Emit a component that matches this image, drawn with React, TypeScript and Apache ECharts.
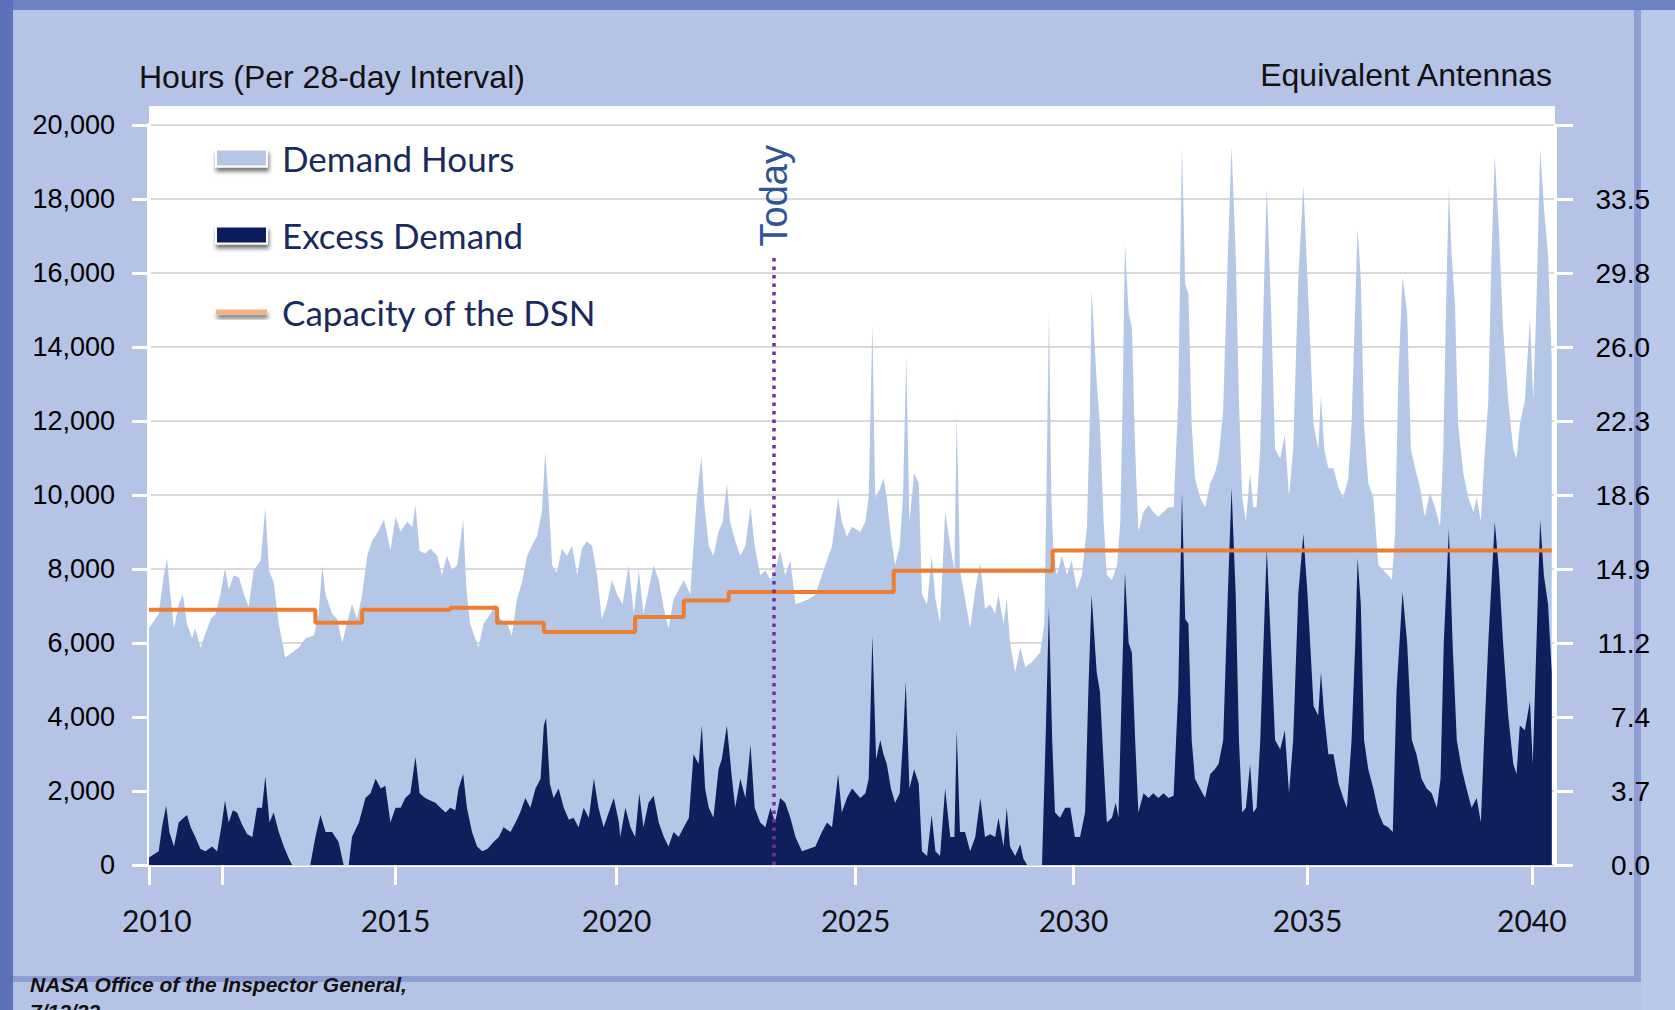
import React, { useEffect, useRef } from "react";
import * as echarts from "echarts";

const WIDTH = 1675;
const HEIGHT = 1010;

// ---------- axis ticks / labels ----------
// the x axis of the original is slightly irregular: positions (in the plotted time scale) of its ticks and labels
const xTickPositions = [2010, 2011.59, 2015.32, 2020.09, 2025.25, 2029.95, 2035.0, 2039.84];
const xLabelPositions = [2010.17, 2015.32, 2020.09, 2025.25, 2029.95, 2035.0, 2039.84];
const xLabelTexts = ["2010", "2015", "2020", "2025", "2030", "2035", "2040"];
const leftTickLabels = ["0", "2,000", "4,000", "6,000", "8,000", "10,000", "12,000", "14,000", "16,000", "18,000", "20,000"];
const rightTickLabels = ["0.0", "3.7", "7.4", "11.2", "14.9", "18.6", "22.3", "26.0", "29.8", "33.5", ""];

// ---------- Capacity of the DSN (step line) ----------
const capacityYears = [2010.0, 2013.59, 2014.6, 2016.5, 2017.51, 2018.52, 2020.49, 2021.54, 2022.51, 2026.07, 2029.5, 2040.27];
const capacityHours = [6900, 6550, 6900, 6950, 6550, 6300, 6700, 7150, 7380, 7950, 8500, 8500];

// ---------- "Today" marker ----------
const todayYear = 2023.48;
const todayLineTop = 16500;

// ---------- Demand Hours (per 28-day interval) ----------
const demand2010s: [number, number][] = [
  [2010.0, 6400], [2010.21, 6790], [2010.32, 7830], [2010.39, 8290], [2010.46, 7310], [2010.54, 6390], [2010.64, 7050], [2010.73, 7310],
  [2010.82, 6520], [2010.93, 6130], [2011.0, 6390], [2011.11, 5870], [2011.22, 6260], [2011.33, 6650], [2011.44, 6790], [2011.54, 7310],
  [2011.64, 8030], [2011.72, 7440], [2011.83, 7830], [2011.94, 7770], [2012.05, 7310], [2012.15, 6980], [2012.26, 7960], [2012.41, 8230],
  [2012.51, 9670], [2012.59, 7960], [2012.69, 7640], [2012.8, 6520], [2012.94, 5610], [2013.09, 5740], [2013.23, 5870], [2013.38, 6130],
  [2013.56, 6200], [2013.66, 6790], [2013.74, 8100], [2013.81, 7310], [2013.95, 6790], [2014.06, 6650], [2014.17, 6000], [2014.27, 6520],
  [2014.38, 7050], [2014.49, 6650], [2014.6, 7310], [2014.71, 8360], [2014.81, 8750], [2014.94, 9010], [2015.07, 9340], [2015.21, 8500],
  [2015.32, 9410], [2015.43, 9010], [2015.57, 9280], [2015.68, 9140], [2015.75, 9730], [2015.84, 8490], [2015.96, 8420], [2016.07, 8550],
  [2016.22, 8360], [2016.32, 7830], [2016.43, 8360], [2016.54, 7960], [2016.65, 8100], [2016.78, 9340], [2016.85, 7440], [2016.93, 6520],
  [2017.04, 6130], [2017.11, 5870], [2017.22, 6520], [2017.37, 6790], [2017.47, 7050], [2017.58, 6650], [2017.73, 6520], [2017.83, 6200],
  [2017.94, 7180], [2018.05, 7640], [2018.16, 8360], [2018.26, 8620], [2018.37, 8880], [2018.48, 9540], [2018.55, 11170], [2018.62, 9930],
  [2018.7, 8100], [2018.8, 7900], [2018.91, 8550], [2019.02, 8360], [2019.13, 8620], [2019.24, 7830], [2019.34, 8550], [2019.45, 8750],
  [2019.56, 8620], [2019.67, 7830], [2019.77, 6650], [2019.88, 7050], [2019.99, 7700],
];
const demand2020s: [number, number][] = [
  [2020.1, 7310], [2020.22, 7050], [2020.35, 8100], [2020.46, 6790], [2020.57, 7960], [2020.67, 6790], [2020.78, 7440], [2020.89, 8100],
  [2021.0, 7700], [2021.11, 6920], [2021.21, 6390], [2021.32, 7180], [2021.43, 7440], [2021.54, 7700], [2021.68, 7310], [2021.75, 8620],
  [2021.82, 9930], [2021.92, 11040], [2021.99, 9670], [2022.08, 8620], [2022.18, 8360], [2022.29, 9010], [2022.38, 9280], [2022.47, 10320],
  [2022.54, 9280], [2022.65, 8750], [2022.76, 8360], [2022.87, 8620], [2022.98, 9670], [2023.07, 8620], [2023.19, 7830], [2023.3, 7960],
  [2023.41, 7700], [2023.51, 7960], [2023.62, 8490], [2023.73, 7830], [2023.84, 8230], [2023.95, 7050], [2024.09, 7110], [2024.23, 7180],
  [2024.38, 7310], [2024.52, 7830], [2024.63, 8230], [2024.74, 8620], [2024.87, 9930], [2024.95, 9280], [2025.06, 8880], [2025.17, 9140],
  [2025.35, 9010], [2025.46, 9280], [2025.53, 9930], [2025.61, 14650], [2025.67, 9930], [2025.78, 10190], [2025.85, 10450], [2025.92, 9930],
  [2026.01, 8880], [2026.1, 8100], [2026.2, 8620], [2026.27, 9930], [2026.34, 13730], [2026.41, 9280], [2026.51, 10590], [2026.61, 10320],
  [2026.68, 7310], [2026.79, 7050], [2026.89, 8360], [2026.97, 7180], [2027.07, 6520], [2027.18, 9540], [2027.29, 8620], [2027.38, 7960],
  [2027.43, 12160], [2027.5, 7960], [2027.61, 7180], [2027.72, 6390], [2027.83, 7440], [2027.94, 8160], [2028.04, 6920], [2028.15, 7050],
  [2028.26, 6790], [2028.33, 7310], [2028.44, 6520], [2028.51, 7180], [2028.58, 6000], [2028.69, 5210], [2028.8, 5870], [2028.91, 5350],
  [2029.05, 5480], [2029.23, 5740], [2029.32, 6500], [2029.37, 10500], [2029.42, 14970], [2029.47, 10000], [2029.52, 8360], [2029.59, 7830],
  [2029.7, 8360], [2029.81, 7830], [2029.91, 8230],
];
const demand2030s: [number, number][] = [
  [2030.02, 7440], [2030.13, 7830], [2030.24, 9140], [2030.3, 12000], [2030.34, 15560], [2030.45, 13070], [2030.52, 11900], [2030.6, 9280],
  [2030.67, 7830], [2030.78, 7700], [2030.89, 8100], [2030.96, 9280], [2031.01, 12550], [2031.06, 16810], [2031.14, 14910], [2031.21, 14520],
  [2031.28, 11240], [2031.35, 9010], [2031.46, 9540], [2031.57, 9730], [2031.67, 9540], [2031.78, 9410], [2031.89, 9540], [2032.0, 9670],
  [2032.11, 9670], [2032.21, 12550], [2032.29, 19430], [2032.36, 15690], [2032.43, 15430], [2032.5, 11900], [2032.57, 10450], [2032.68, 9930],
  [2032.79, 9670], [2032.9, 10320], [2033.0, 10590], [2033.08, 10980], [2033.18, 12290], [2033.28, 16480], [2033.36, 19430], [2033.45, 16480],
  [2033.52, 12550], [2033.59, 9930], [2033.67, 9280], [2033.76, 10590], [2033.83, 9670], [2033.9, 9670], [2033.98, 11240], [2034.05, 15170],
  [2034.12, 18310], [2034.21, 15170], [2034.3, 11240], [2034.41, 10980], [2034.51, 11630], [2034.6, 9930], [2034.69, 11240], [2034.8, 15830],
  [2034.91, 18380], [2035.0, 15830], [2035.13, 11900], [2035.23, 11240], [2035.29, 12680], [2035.36, 11240], [2035.45, 10720], [2035.56, 10720],
  [2035.67, 10190], [2035.77, 9930], [2035.88, 10450], [2035.95, 11900], [2036.03, 15170], [2036.08, 17200], [2036.15, 15830], [2036.22, 11900],
  [2036.31, 10320], [2036.42, 9930], [2036.53, 8100], [2036.64, 7960], [2036.74, 7830], [2036.82, 7700], [2036.89, 9010], [2036.96, 13200],
  [2037.05, 15890], [2037.15, 14910], [2037.23, 11240], [2037.32, 10720], [2037.43, 10190], [2037.53, 9410], [2037.64, 10060], [2037.75, 9670],
  [2037.86, 9140], [2037.93, 11240], [2037.99, 15170], [2038.05, 18310], [2038.11, 16480], [2038.18, 15170], [2038.25, 11900], [2038.36, 10590],
  [2038.47, 9930], [2038.58, 9540], [2038.65, 9930], [2038.74, 9280], [2038.81, 10850], [2038.9, 12550], [2038.97, 16480], [2039.04, 19160],
  [2039.13, 17140], [2039.22, 14520], [2039.33, 12550], [2039.44, 11240], [2039.51, 10980], [2039.58, 11900], [2039.69, 12550], [2039.8, 14780],
  [2039.87, 12550], [2039.94, 15170], [2040.02, 19360], [2040.1, 17790], [2040.19, 16480], [2040.27, 13600],
];

// ---------- Excess Demand ----------
const excess2010s: [number, number][] = [
  [2010.0, 200], [2010.21, 370], [2010.28, 1020], [2010.37, 1610], [2010.44, 890], [2010.54, 500], [2010.64, 1150], [2010.75, 1280],
  [2010.82, 1350], [2010.9, 1020], [2011.0, 760], [2011.11, 430], [2011.22, 370], [2011.36, 500], [2011.47, 370], [2011.56, 1020],
  [2011.64, 1740], [2011.72, 1150], [2011.81, 1480], [2011.9, 1420], [2012.01, 1090], [2012.12, 830], [2012.23, 760], [2012.33, 1550],
  [2012.44, 1550], [2012.51, 2400], [2012.6, 1150], [2012.69, 1420], [2012.8, 890], [2012.91, 500], [2013.02, 170], [2013.09, 0],
  [2013.48, 0], [2013.59, 760], [2013.7, 1350], [2013.81, 890], [2013.95, 890], [2014.09, 630], [2014.2, 0], [2014.31, 0],
  [2014.38, 760], [2014.53, 1150], [2014.67, 1810], [2014.78, 1940], [2014.89, 2330], [2015.0, 2070], [2015.1, 2140], [2015.21, 1150],
  [2015.32, 1550], [2015.43, 1550], [2015.53, 1810], [2015.64, 1940], [2015.75, 2920], [2015.84, 1940], [2015.96, 1810], [2016.07, 1740],
  [2016.18, 1680], [2016.29, 1550], [2016.4, 1420], [2016.5, 1550], [2016.61, 1480], [2016.68, 2070], [2016.78, 2460], [2016.86, 1550],
  [2016.97, 890], [2017.08, 500], [2017.19, 370], [2017.3, 430], [2017.44, 630], [2017.55, 760], [2017.65, 1020], [2017.8, 890],
  [2017.91, 1150], [2018.01, 1420], [2018.12, 1810], [2018.23, 1550], [2018.34, 2070], [2018.45, 2330], [2018.52, 3770], [2018.57, 3970],
  [2018.65, 2200], [2018.73, 1810], [2018.84, 2070], [2018.95, 1550], [2019.06, 1220], [2019.16, 1280], [2019.27, 1020], [2019.38, 1550],
  [2019.49, 1280], [2019.6, 2330], [2019.7, 1550], [2019.81, 1020], [2019.92, 1420],
];
const excess2020s: [number, number][] = [
  [2020.03, 1810], [2020.14, 1150], [2020.17, 760], [2020.28, 1550], [2020.39, 1020], [2020.49, 760], [2020.58, 1940], [2020.67, 1020],
  [2020.78, 1680], [2020.89, 1870], [2021.0, 1150], [2021.11, 760], [2021.21, 500], [2021.32, 890], [2021.43, 760], [2021.54, 1020],
  [2021.65, 1280], [2021.75, 2990], [2021.86, 2730], [2021.93, 3770], [2022.0, 2070], [2022.08, 1550], [2022.18, 1280], [2022.29, 2590],
  [2022.36, 2860], [2022.47, 3770], [2022.57, 2460], [2022.65, 1550], [2022.76, 2330], [2022.87, 1810], [2022.98, 3250], [2023.07, 1550],
  [2023.19, 1150], [2023.3, 1020], [2023.41, 1550], [2023.51, 1150], [2023.62, 1810], [2023.73, 1680], [2023.84, 1280], [2023.95, 760],
  [2024.09, 370], [2024.23, 430], [2024.38, 500], [2024.52, 890], [2024.63, 1150], [2024.74, 1020], [2024.87, 2460], [2024.95, 1420],
  [2025.06, 1810], [2025.17, 2070], [2025.35, 1810], [2025.46, 1940], [2025.53, 2330], [2025.61, 6200], [2025.69, 2860], [2025.78, 3380],
  [2025.85, 2990], [2025.92, 2730], [2026.01, 2070], [2026.1, 1680], [2026.2, 1940], [2026.27, 3380], [2026.33, 4950], [2026.41, 2070],
  [2026.51, 2590], [2026.61, 2200], [2026.68, 370], [2026.79, 240], [2026.89, 1350], [2026.97, 370], [2027.07, 240], [2027.18, 2070],
  [2027.29, 760], [2027.38, 760], [2027.43, 3640], [2027.5, 890], [2027.61, 890], [2027.72, 370], [2027.83, 760], [2027.94, 1810],
  [2028.04, 760], [2028.15, 830], [2028.26, 760], [2028.33, 1280], [2028.44, 500], [2028.51, 1550], [2028.58, 500], [2028.69, 240],
  [2028.8, 560], [2028.87, 170], [2028.95, 0], [2029.27, 0], [2029.35, 3500], [2029.42, 6980], [2029.49, 3380], [2029.55, 1420],
  [2029.66, 1280], [2029.77, 1550], [2029.88, 1550], [2029.98, 760],
];
const excess2030s: [number, number][] = [
  [2030.09, 760], [2030.2, 1420], [2030.27, 4690], [2030.34, 7310], [2030.45, 5210], [2030.52, 4690], [2030.6, 2730], [2030.67, 1150],
  [2030.78, 1280], [2030.86, 1680], [2030.92, 1280], [2030.99, 4690], [2031.06, 7900], [2031.14, 6000], [2031.21, 5740], [2031.28, 3380],
  [2031.35, 1420], [2031.46, 1940], [2031.57, 1810], [2031.67, 1940], [2031.78, 1810], [2031.89, 1940], [2032.0, 1810], [2032.11, 1870],
  [2032.21, 4690], [2032.29, 10060], [2032.36, 6650], [2032.43, 6520], [2032.5, 3380], [2032.57, 2330], [2032.68, 2070], [2032.79, 1810],
  [2032.9, 2460], [2033.0, 2590], [2033.08, 2730], [2033.18, 3380], [2033.28, 7310], [2033.36, 10190], [2033.45, 7310], [2033.52, 3380],
  [2033.59, 1420], [2033.67, 1550], [2033.76, 2730], [2033.83, 1420], [2033.9, 1550], [2033.98, 3380], [2034.05, 6000], [2034.12, 8550],
  [2034.21, 6000], [2034.3, 3380], [2034.41, 3120], [2034.51, 3640], [2034.6, 1940], [2034.69, 3380], [2034.8, 7310], [2034.91, 8950],
  [2035.0, 7310], [2035.13, 4300], [2035.23, 4040], [2035.29, 5210], [2035.36, 4040], [2035.45, 2990], [2035.56, 2990], [2035.67, 2200],
  [2035.77, 1810], [2035.85, 1550], [2035.95, 3380], [2036.03, 6000], [2036.08, 8290], [2036.15, 7050], [2036.22, 3380], [2036.31, 2590],
  [2036.42, 2070], [2036.53, 1420], [2036.64, 1090], [2036.74, 1020], [2036.84, 890], [2036.92, 4690], [2037.05, 7380], [2037.15, 6000],
  [2037.25, 3380], [2037.35, 2990], [2037.46, 2330], [2037.57, 2070], [2037.68, 1940], [2037.79, 1550], [2037.87, 2330], [2037.94, 6000],
  [2038.05, 9080], [2038.13, 6000], [2038.22, 3380], [2038.33, 2590], [2038.43, 2070], [2038.54, 1550], [2038.65, 1810], [2038.74, 1150],
  [2038.81, 3380], [2038.9, 6000], [2039.04, 9280], [2039.13, 7960], [2039.22, 6000], [2039.33, 4040], [2039.44, 2730], [2039.51, 2460],
  [2039.58, 3770], [2039.69, 3640], [2039.8, 4430], [2039.86, 2730], [2039.94, 6000], [2040.02, 9340], [2040.1, 7830], [2040.19, 7050],
  [2040.27, 5210],
];

const demandHours = [...demand2010s, ...demand2020s, ...demand2030s];
const excessDemand = [...excess2010s, ...excess2020s, ...excess2030s];
const capacitySeries = capacityYears.map((y, i) => [y, capacityHours[i]]);

// ---------- colours ----------
const DEMAND_COLOR = "#b4c7e7";
const EXCESS_COLOR = "#0f1f5c";
const CAPACITY_COLOR = "#ed7d31";
const LEGEND_TEXT = "#1b2a5e";

const legendShadow = {
  shadowColor: "rgba(0,0,0,0.55)",
  shadowBlur: 4,
  shadowOffsetX: 1,
  shadowOffsetY: 4,
};

const xLabelFor = (v: number) => {
  let best = 0;
  for (let i = 1; i < xLabelPositions.length; i++) {
    if (Math.abs(xLabelPositions[i] - v) < Math.abs(xLabelPositions[best] - v)) best = i;
  }
  return xLabelTexts[best];
};

const buildOption = (): any => ({
  animation: false,
  backgroundColor: "#b5c4e6",
  grid: { left: 149, right: 120, top: 125, bottom: 145, containLabel: false, outerBoundsMode: "none" },
  legend: {
    orient: "vertical",
    left: 215,
    top: 138,
    padding: 0,
    itemWidth: 51,
    itemHeight: 17,
    itemGap: 37,
    selectedMode: false,
    textStyle: { fontFamily: "Lato", fontSize: 35, color: LEGEND_TEXT, lineHeight: 40, padding: [0, 0, 0, 10] },
    data: [
      { name: "Demand Hours", icon: "rect", itemStyle: { color: DEMAND_COLOR, borderColor: "#ffffff", borderWidth: 2, ...legendShadow } },
      { name: "Excess Demand", icon: "rect", itemStyle: { color: EXCESS_COLOR, borderColor: "#ffffff", borderWidth: 2, ...legendShadow } },
      { name: "Capacity of the DSN", icon: "path://M0,0 L50,0 L50,5 L0,5 Z", itemStyle: { color: "#f4b183", borderWidth: 0, ...legendShadow } },
    ],
  },
  xAxis: {
    type: "value",
    min: 2010,
    max: 2040.34,
    axisLine: { show: true, onZero: false, lineStyle: { color: "#ffffff", width: 4, shadowColor: "rgba(15,31,92,0.6)", shadowOffsetY: 3, shadowBlur: 2 } },
    axisTick: { show: true, length: 20, customValues: xTickPositions, lineStyle: { color: "#ffffff", width: 3 } },
    axisLabel: {
      customValues: xLabelPositions,
      formatter: (v: number) => xLabelFor(v),
      margin: 40,
      fontFamily: "Lato",
      fontSize: 30,
      color: "#111111",
    },
    splitLine: { show: false },
  },
  yAxis: [
    {
      type: "value",
      min: 0,
      max: 20000,
      interval: 2000,
      position: "left",
      axisLine: { show: true, lineStyle: { color: "#ffffff", width: 4 } },
      axisTick: { show: true, length: 17, lineStyle: { color: "#ffffff", width: 3 } },
      axisLabel: {
        formatter: (v: number) => leftTickLabels[Math.round(v / 2000)],
        margin: 34,
        fontFamily: "Liberation Sans",
        fontSize: 27,
        color: "#000000",
      },
      splitLine: { show: true, lineStyle: { color: "#d9d9d9", width: 2 } },
    },
    {
      type: "value",
      min: 0,
      max: 20000,
      interval: 2000,
      position: "right",
      axisLine: { show: true, lineStyle: { color: "#ffffff", width: 3 } },
      axisTick: { show: true, length: 18, lineStyle: { color: "#ffffff", width: 3 } },
      axisLabel: {
        formatter: (v: number) => rightTickLabels[Math.round(v / 2000)],
        margin: 95,
        align: "right",
        fontFamily: "Liberation Sans",
        fontSize: 28,
        color: "#000000",
      },
      splitLine: { show: false },
    },
  ],
  series: [
    {
      name: "Demand Hours",
      type: "line",
      data: demandHours,
      symbol: "none",
      showSymbol: false,
      silent: true,
      z: 2,
      itemStyle: { color: DEMAND_COLOR },
      lineStyle: { width: 0, color: DEMAND_COLOR },
      areaStyle: { color: DEMAND_COLOR, opacity: 1 },
    },
    {
      name: "Excess Demand",
      type: "line",
      data: excessDemand,
      symbol: "none",
      showSymbol: false,
      silent: true,
      z: 3,
      itemStyle: { color: EXCESS_COLOR },
      lineStyle: { width: 0, color: EXCESS_COLOR },
      areaStyle: { color: EXCESS_COLOR, opacity: 1 },
    },
    {
      name: "Capacity of the DSN",
      type: "line",
      step: "end",
      data: capacitySeries,
      symbol: "none",
      showSymbol: false,
      silent: true,
      z: 4,
      itemStyle: { color: CAPACITY_COLOR },
      lineStyle: { width: 4, color: CAPACITY_COLOR },
      markLine: {
        silent: true,
        symbol: ["none", "none"],
        label: { show: false },
        lineStyle: { color: "#7030a0", width: 3.5, type: [3.5, 5], cap: "butt" },
        data: [[{ coord: [todayYear, 0] }, { coord: [todayYear, todayLineTop] }]],
      },
    },
  ],
});

const background = (): any[] => [
  { type: "rect", z: -10, silent: true, shape: { x: 0, y: 0, width: WIDTH, height: 10 }, style: { fill: "#6d82c5" } },
  { type: "rect", z: -10, silent: true, shape: { x: 0, y: 0, width: 13, height: HEIGHT }, style: { fill: "#5d70b8" } },
  { type: "rect", z: -10, silent: true, shape: { x: 1641, y: 10, width: WIDTH - 1641, height: HEIGHT - 10 }, style: { fill: "#bac8ea" } },
  { type: "rect", z: -9, silent: true, shape: { x: 1634, y: 10, width: 7, height: 972 }, style: { fill: "#8e9dd6" } },
  { type: "rect", z: -9, silent: true, shape: { x: 13, y: 976, width: 1628, height: 6 }, style: { fill: "#8e9dd6" } },
  { type: "rect", z: -8, silent: true, shape: { x: 149, y: 106, width: 1406, height: 761 }, style: { fill: "#ffffff" } },
  {
    type: "text", z: 10, silent: true, x: 139, y: 77,
    style: { text: "Hours (Per 28-day Interval)", fontFamily: "Liberation Sans", fontSize: 32, fill: "#111111", align: "left", verticalAlign: "middle" },
  },
  {
    type: "text", z: 10, silent: true, x: 1552, y: 75,
    style: { text: "Equivalent Antennas", fontFamily: "Liberation Sans", fontSize: 32, fill: "#111111", align: "right", verticalAlign: "middle" },
  },
  {
    type: "text", z: 10, silent: true, x: 30, y: 984,
    style: { text: "NASA Office of the Inspector General,", fontFamily: "Liberation Sans", fontStyle: "italic", fontWeight: "bold", fontSize: 21, fill: "#111111", align: "left", verticalAlign: "middle" },
  },
  {
    type: "text", z: 10, silent: true, x: 30, y: 1011,
    style: { text: "7/12/23", fontFamily: "Liberation Sans", fontStyle: "italic", fontWeight: "bold", fontSize: 21, fill: "#111111", align: "left", verticalAlign: "middle" },
  },
];

export default function App() {
  const ref = useRef<HTMLDivElement>(null);

  useEffect(() => {
    document.body.style.margin = "0";
    const el = ref.current;
    if (!el) return;
    const chart = echarts.init(el, null, { renderer: "svg", width: WIDTH, height: HEIGHT });
    chart.setOption(buildOption());
    const p = chart.convertToPixel({ xAxisIndex: 0, yAxisIndex: 0 }, [todayYear, todayLineTop]) as number[];
    chart.setOption({
      graphic: {
        elements: [
          ...background(),
          {
            type: "text", z: 10, silent: true, x: p[0], y: p[1] - 8, rotation: Math.PI / 2,
            style: { text: "Today", fontFamily: "Liberation Sans", fontSize: 38, fill: "#2f5597", align: "left", verticalAlign: "middle" },
          },
        ],
      },
    });
    return () => chart.dispose();
  }, []);

  return <div ref={ref} style={{ width: WIDTH, height: HEIGHT }} />;
}
